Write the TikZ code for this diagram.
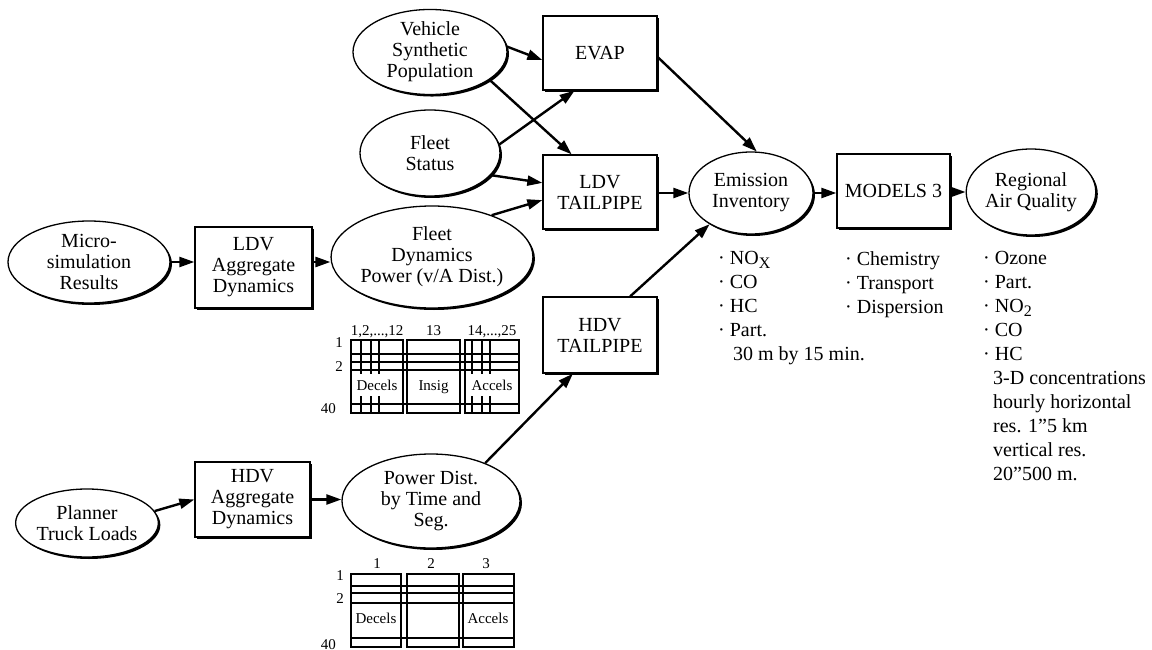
\documentclass[tikz,border=0pt]{standalone}
\usepackage{fontspec}
\setmainfont{Liberation Serif}
\usetikzlibrary{shapes.geometric,shadows,arrows.meta}
\begin{document}
\begin{tikzpicture}[x=1pt,y=-1pt,
  every node/.style={inner sep=0pt},
  lbl/.style={font=\fontsize{20}{21}\selectfont, align=center},
  shade/.style={drop shadow={shadow xshift=2pt,shadow yshift=-2pt,opacity=1,fill=black}},
  box/.style={lbl, draw, rectangle, line width=1.3pt, fill=white, shade},
  oval/.style={lbl, draw, ellipse, line width=1.3pt, fill=white, shade},
  link/.style={line width=2.4pt, -{Triangle[length=15pt,width=10pt]}},
  list/.style={font=\fontsize{20}{24}\selectfont, align=left, anchor=north west},
  gridline/.style={line width=1.2pt},
  gtext/.style={font=\fontsize{15}{15}\selectfont}
]
\useasboundingbox (0,0) rectangle (1152,650);

% input ellipses
\node[oval, minimum width=154pt, minimum height=84pt] (vsp) at (430,52) {Vehicle\\Synthetic\\Population};
\node[oval, minimum width=140pt, minimum height=86pt] (fs) at (430,153) {Fleet\\Status};
\node[oval, minimum width=180pt, minimum height=102pt] (fd) at (432,257) {Fleet\\Dynamics\\Power (v/A Dist.)};
\node[oval, minimum width=162pt, minimum height=82pt] (micro) at (89,262) {Micro-\\simulation\\Results};
\node[oval, minimum width=140pt, minimum height=68pt] (plan) at (87,523) {Planner\\Truck Loads};
\node[oval, minimum width=178pt, minimum height=94pt] (pd) at (431,501) {Power Dist.\\by Time and\\Seg.};
\node[oval, minimum width=124pt, minimum height=82pt] (ei) at (751,193) {Emission\\Inventory};
\node[oval, minimum width=123pt, minimum height=86pt] (raq) at (1031,192) {Regional\\Air Quality};

% process boxes
\node[box, minimum width=114pt, minimum height=74pt] (evap) at (600,53) {EVAP};
\node[box, minimum width=114pt, minimum height=74pt] (ldv) at (600,192) {LDV\\TAILPIPE};
\node[box, minimum width=114pt, minimum height=76pt] (hdv) at (600,335) {HDV\\TAILPIPE};
\node[box, minimum width=113pt, minimum height=74pt] (mod) at (893.5,191) {MODELS 3};
\node[box, minimum width=117pt, minimum height=81pt] (lagg) at (253.5,267.5) {LDV\\Aggregate\\Dynamics};
\node[box, minimum width=115pt, minimum height=75pt] (hagg) at (252.5,499.5) {HDV\\Aggregate\\Dynamics};

% connectors
\draw[link] (vsp.4) -- (evap.187);
\draw[link] (vsp.335) -- (ldv.127);
\draw[link] (fs.7) -- (evap.236);
\draw[link] (fs.340) -- (ldv.171);
\draw[link] (fd.35) -- (ldv.188);
\draw[link] (evap.356) -- (ei.82);
\draw[link] (ldv.east |- ei.west) -- (ei.west);
\draw[link] (hdv.52) -- (ei.217);
\draw[link] (ei.east) -- (ei.east -| mod.west);
\draw[link] (mod.east |- raq.west) -- (raq.west);
\draw[link] (micro.east) -- (micro.east -| lagg.west);
\draw[link] (lagg.east |- micro.east) -- (fd.west |- micro.east);
\draw[link] (plan.10) -- (hagg.west);
\draw[link] (hagg.east) -- (hagg.east -| pd.west);
\draw[link] (pd.35) -- (hdv.235);

% light-duty speed/acceleration bins
\foreach \a/\b in {351/403, 407/460, 465/519}
  \draw[gridline] (\a,340) rectangle (\b,413);
\foreach \y in {354,362,370,404}
  \draw[gridline] (351,\y) -- (519,\y);
\foreach \x in {361,371,379,472,482,490} {
  \draw[gridline] (\x,340) -- (\x,374);
  \draw[gridline] (\x,396) -- (\x,413);
}
\node[gtext, anchor=base] (l1) at (377,335) {1,2,...,12};
\node[gtext, anchor=base] (l2) at (433.5,335) {13};
\node[gtext, anchor=base] (l3) at (492,335) {14,...,25};
\node[gtext, anchor=base] (l4) at (377,390) {Decels};
\node[gtext, anchor=base] (l5) at (433.5,390) {Insig};
\node[gtext, anchor=base] (l6) at (492,390) {Accels};
\node[gtext, anchor=base east] (l7) at (343,347) {1};
\node[gtext, anchor=base east] (l8) at (343,371) {2};
\node[gtext, anchor=base east] (l9) at (336,413) {40};

% heavy-duty power bins
\foreach \a/\b in {351/401, 407/459, 463/514}
  \draw[gridline] (\a,574) rectangle (\b,647);
\foreach \y in {586,593,603,638}
  \draw[gridline] (351,\y) -- (514,\y);
\node[gtext, anchor=base] (h1) at (377,568) {1};
\node[gtext, anchor=base] (h2) at (431,568) {2};
\node[gtext, anchor=base] (h3) at (486,568) {3};
\node[gtext, anchor=base] (h4) at (376,623) {Decels};
\node[gtext, anchor=base] (h5) at (488,623) {Accels};
\node[gtext, anchor=base east] (h6) at (344,580) {1};
\node[gtext, anchor=base east] (h7) at (344,603) {2};
\node[gtext, anchor=base east] (h8) at (336,649) {40};

% output lists
\node[list] (emis) at (718,251.5) {· NO\raisebox{-4pt}{\fontsize{16}{16}\selectfont X}\\· CO\\· HC\\· Part.\\\hspace*{15pt}30 m by 15 min.};
\node[list] (proc) at (845,251.5) {· Chemistry\\· Transport\\· Dispersion};
\node[list] (aq) at (983,251.5) {· Ozone\\· Part.\\· NO\raisebox{-4pt}{\fontsize{16}{16}\selectfont 2}\\· CO\\· HC\\\hspace*{10pt}3-D concentrations\\\hspace*{10pt}hourly horizontal\\\hspace*{10pt}res. 1”5 km\\\hspace*{10pt}vertical res.\\\hspace*{10pt}20”500 m.};
\end{tikzpicture}
\end{document}
